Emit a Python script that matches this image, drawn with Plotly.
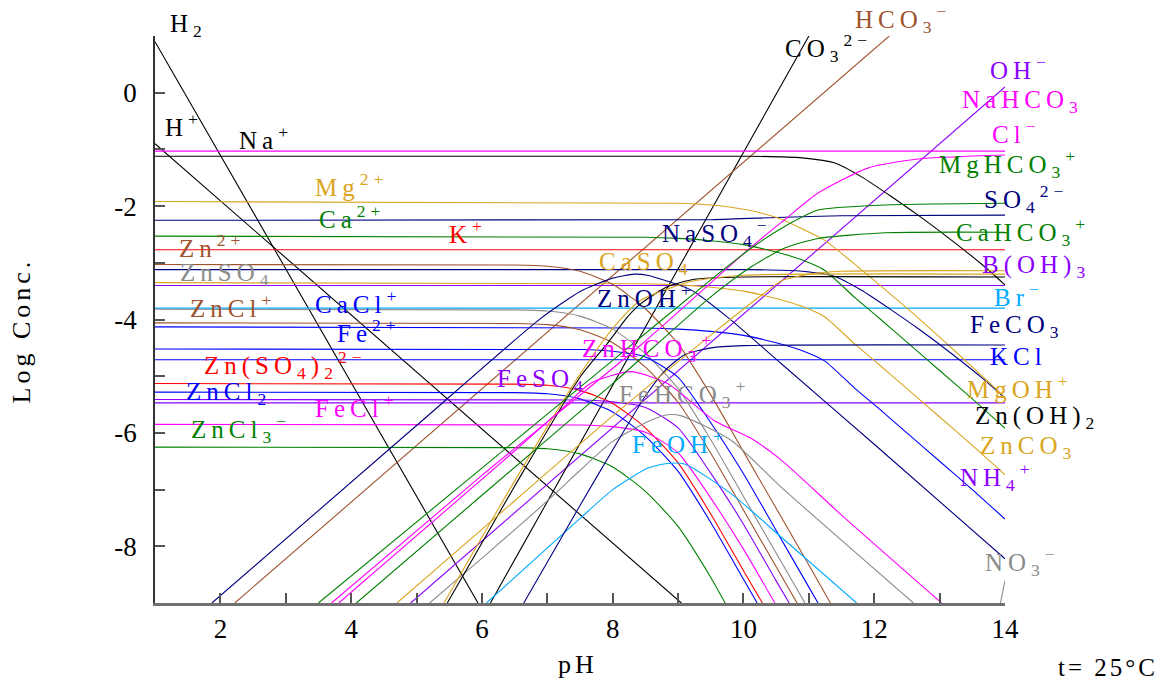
import plotly.graph_objects as go

# ---------------- data: (pH, log concentration) ----------------
h2_ph = [1.0, 5.94]
h2_log = [0.90, -9.0]
hplus_ph = [1.0, 9.05]
hplus_log = [-0.90, -9.0]
oh_ph = [4.91, 14.0]
oh_log = [-9.0, 0.10]
co3_ph = [6.13, 11.0]
co3_log = [-9.0, 1.0]
hco3_ph = [2.22, 12.23]
hco3_log = [-9.0, 1.0]

cl_ph = [1.0, 14.0]
cl_log = [-1.03, -1.03]
k_ph = [1.0, 14.0]
k_log = [-2.77, -2.77]
boh3_ph = [1.0, 14.0]
boh3_log = [-3.40, -3.40]
br_ph = [1.0, 14.0]
br_log = [-3.80, -3.80]
kcl_ph = [1.0, 14.0]
kcl_log = [-4.71, -4.71]
flat_purple_ph = [1.0, 14.0]
flat_purple_log = [-5.47, -5.47]
so4_ph = [1.0, 9.5, 10.5, 11.5, 14.0]
so4_log = [-2.25, -2.24, -2.20, -2.17, -2.16]

na_ph = [1.0, 10.1, 10.9, 11.4, 11.8, 12.26, 12.67, 13.18, 13.69, 14.0]
na_log = [-1.12, -1.12, -1.15, -1.24, -1.48, -1.83, -2.16, -2.60, -3.07, -3.39]
naso4_ph = [1.0, 10.1, 10.9, 11.4, 11.8, 12.26, 12.67, 13.18, 13.69, 14.0]
naso4_log = [-3.12, -3.12, -3.15, -3.24, -3.48, -3.83, -4.16, -4.60, -5.07, -5.39]

mg_ph = [1.0, 9.0, 9.5, 10.07, 10.53, 10.88, 11.24, 11.8, 12.57, 13.2, 14.0]
mg_log = [-1.92, -1.95, -1.98, -2.07, -2.21, -2.39, -2.60, -3.12, -3.87, -4.52, -5.37]

ca_ph = [1.0, 8.5, 9.0, 9.5, 10.0, 10.5, 10.9, 11.24, 11.7, 12.06, 12.5, 13.0, 13.5, 14.0]
ca_log = [-2.53, -2.55, -2.57, -2.61, -2.68, -2.81, -2.95, -3.13, -3.61, -3.96, -4.40, -4.90, -5.40, -5.92]
caso4_ph = [1.0, 8.5, 9.0, 9.5, 10.0, 10.5, 10.9, 11.24, 11.7, 12.06, 12.5, 13.0, 13.5, 14.0]
caso4_log = [-3.35, -3.37, -3.39, -3.43, -3.50, -3.63, -3.77, -3.95, -4.43, -4.78, -5.22, -5.72, -6.22, -6.74]
cacl_ph = [1.0, 8.5, 9.0, 9.5, 10.0, 10.5, 10.9, 11.24, 11.7, 12.06, 12.5, 13.0, 13.5, 14.0]
cacl_log = [-4.13, -4.15, -4.17, -4.21, -4.28, -4.41, -4.55, -4.73, -5.21, -5.56, -6.00, -6.50, -7.00, -7.52]

zn_ph = [1.0, 6.5, 7.0, 7.5, 8.0, 8.5, 9.0, 9.5, 10.0, 10.5, 11.0, 11.33]
zn_log = [-3.03, -3.04, -3.06, -3.15, -3.38, -3.81, -4.43, -5.33, -6.33, -7.33, -8.33, -9.0]
znso4_ph = [1.0, 6.5, 7.0, 7.5, 8.0, 8.5, 9.0, 9.5, 10.0, 10.5, 10.94]
znso4_log = [-3.82, -3.83, -3.85, -3.94, -4.17, -4.60, -5.22, -6.12, -7.12, -8.12, -9.0]
zncl_ph = [1.0, 6.5, 7.0, 7.5, 8.0, 8.5, 9.0, 9.5, 10.0, 10.5, 10.82]
zncl_log = [-4.06, -4.07, -4.09, -4.18, -4.41, -4.84, -5.46, -6.36, -7.36, -8.36, -9.0]
znso42_ph = [1.0, 6.5, 7.0, 7.5, 8.0, 8.5, 9.0, 9.5, 10.0, 10.29]
znso42_log = [-5.13, -5.14, -5.16, -5.25, -5.48, -5.91, -6.53, -7.43, -8.43, -9.0]
zncl2_ph = [1.0, 6.5, 7.0, 7.5, 8.0, 8.5, 9.0, 9.5, 10.0, 10.21]
zncl2_log = [-5.28, -5.29, -5.31, -5.40, -5.63, -6.06, -6.68, -7.58, -8.58, -9.0]
zncl3_ph = [1.0, 6.5, 7.0, 7.5, 8.0, 8.5, 9.0, 9.5, 9.72]
zncl3_log = [-6.25, -6.26, -6.28, -6.37, -6.60, -7.03, -7.65, -8.55, -9.0]

fe_ph = [1.0, 7.5, 8.0, 8.5, 9.0, 9.5, 10.0, 10.5, 11.0, 11.14]
fe_log = [-4.52, -4.53, -4.56, -4.66, -5.02, -5.82, -6.72, -7.72, -8.72, -9.0]
feso4_ph = [1.0, 7.5, 8.0, 8.5, 9.0, 9.5, 10.0, 10.5, 10.7]
feso4_log = [-5.41, -5.42, -5.45, -5.55, -5.91, -6.71, -7.61, -8.61, -9.0]
fecl_ph = [1.0, 7.5, 8.0, 8.5, 9.0, 9.5, 10.0, 10.48]
fecl_log = [-5.85, -5.86, -5.89, -5.99, -6.35, -7.15, -8.05, -9.0]

znoh_ph = [1.87, 5.0, 6.9, 7.51, 8.0, 8.33, 8.53, 9.2, 9.81, 10.58, 12.0, 14.0]
znoh_log = [-9.0, -5.87, -3.98, -3.50, -3.27, -3.20, -3.22, -3.48, -4.01, -4.78, -6.20, -8.22]
znhco3_ph = [3.81, 6.5, 7.2, 7.67, 8.28, 8.84, 9.55, 10.12, 10.58, 11.5, 13.03]
znhco3_log = [-9.0, -6.32, -5.60, -5.12, -4.92, -5.13, -5.78, -6.10, -6.48, -7.45, -9.0]
fehco3_ph = [5.2, 6.06, 7.0, 7.51, 8.0, 8.54, 8.84, 9.05, 9.81, 10.58, 12.6]
fehco3_log = [-9.0, -8.15, -7.20, -6.65, -6.15, -5.80, -5.68, -5.70, -6.13, -6.96, -9.0]
feoh_ph = [6.07, 7.51, 8.0, 8.54, 8.84, 9.1, 9.81, 10.58, 11.73]
feoh_log = [-9.0, -7.50, -7.00, -6.62, -6.54, -6.55, -7.07, -7.84, -9.0]
feco3_ph = [6.64, 7.5, 8.0, 8.5, 8.8, 9.1, 9.5, 10.0, 14.0]
feco3_log = [-9.0, -7.28, -6.30, -5.35, -4.90, -4.62, -4.50, -4.46, -4.45]
znoh2_ph = [5.47, 6.5, 7.51, 7.92, 8.23, 8.43, 8.84, 9.25, 10.0, 14.0]
znoh2_log = [-9.0, -6.94, -5.00, -4.42, -3.95, -3.72, -3.42, -3.29, -3.25, -3.25]
znco3_ph = [5.42, 6.5, 7.51, 8.02, 8.43, 9.2, 10.0, 14.0]
znco3_log = [-9.0, -6.85, -4.95, -4.13, -3.66, -3.33, -3.22, -3.20]
mgoh_ph = [4.70, 6.06, 8.0, 9.58, 10.3, 10.58, 11.0, 11.5, 14.0]
mgoh_log = [-9.0, -7.64, -5.70, -4.20, -3.55, -3.32, -3.20, -3.15, -3.14]
nahco3_ph = [3.70, 6.0, 8.43, 10.12, 10.63, 11.14, 11.9, 12.67, 14.0]
nahco3_log = [-9.0, -6.75, -4.45, -2.72, -2.24, -1.77, -1.33, -1.17, -1.10]
mghco3_ph = [3.50, 6.0, 8.0, 9.5, 10.12, 10.63, 11.14, 12.16, 14.0]
mghco3_log = [-9.0, -6.62, -4.72, -3.30, -2.74, -2.36, -2.07, -1.98, -1.95]
cahco3_ph = [4.08, 6.0, 8.0, 9.5, 10.12, 10.63, 11.14, 12.16, 14.0]
cahco3_log = [-9.0, -7.10, -5.13, -3.60, -3.07, -2.74, -2.57, -2.47, -2.46]
no3_ph = [13.93, 14.0]
no3_log = [-9.0, -8.60]

# axis ticks
x_tickvals = [2, 4, 6, 8, 10, 12, 14]
x_ticktext = ["2", "4", "6", "8", "10", "12", "14"]
y_tickvals = [-8, -6, -4, -2, 0]
y_ticktext = ["-8", "-6", "-4", "-2", "0"]

# ---------------- colours ----------------
BLACK = "#000000"
MAGENTA = "#FF00FF"
GOLD = "#DAA520"
GREEN = "#008000"
RED = "#FF0000"
BROWN = "#A0522D"
GRAY = "#8C8C8C"
BLUE = "#0000FF"
NAVY = "#000080"
SKY = "#00AAFF"
PURPLE = "#8C00FF"

curves = [
    (h2_ph, h2_log, BLACK), (hplus_ph, hplus_log, BLACK), (oh_ph, oh_log, PURPLE),
    (co3_ph, co3_log, BLACK), (hco3_ph, hco3_log, BROWN),
    (cl_ph, cl_log, MAGENTA), (k_ph, k_log, RED), (boh3_ph, boh3_log, PURPLE),
    (br_ph, br_log, SKY), (kcl_ph, kcl_log, BLUE), (flat_purple_ph, flat_purple_log, PURPLE),
    (so4_ph, so4_log, NAVY), (na_ph, na_log, BLACK), (naso4_ph, naso4_log, NAVY),
    (mg_ph, mg_log, GOLD), (ca_ph, ca_log, GREEN), (caso4_ph, caso4_log, GOLD),
    (cacl_ph, cacl_log, BLUE), (zn_ph, zn_log, BROWN), (znso4_ph, znso4_log, GRAY),
    (zncl_ph, zncl_log, BROWN), (znso42_ph, znso42_log, RED), (zncl2_ph, zncl2_log, BLUE),
    (zncl3_ph, zncl3_log, GREEN), (fe_ph, fe_log, BLUE), (feso4_ph, feso4_log, PURPLE),
    (fecl_ph, fecl_log, MAGENTA), (znoh_ph, znoh_log, NAVY), (znhco3_ph, znhco3_log, MAGENTA),
    (fehco3_ph, fehco3_log, GRAY), (feoh_ph, feoh_log, SKY), (feco3_ph, feco3_log, NAVY),
    (znoh2_ph, znoh2_log, BLACK), (znco3_ph, znco3_log, GOLD), (mgoh_ph, mgoh_log, GOLD),
    (nahco3_ph, nahco3_log, MAGENTA), (mghco3_ph, mghco3_log, GREEN),
    (cahco3_ph, cahco3_log, GREEN), (no3_ph, no3_log, GRAY),
]

# species labels: text, pH of left edge, log conc of text middle, colour
labels = [
    ("H<sup>+</sup>", 1.12, -0.57, BLACK),
    ("Na<sup>+</sup>", 2.25, -0.80, BLACK),
    ("Mg<sup>2+</sup>", 3.42, -1.63, GOLD),
    ("Ca<sup>2+</sup>", 3.48, -2.19, GREEN),
    ("K<sup>+</sup>", 5.47, -2.46, RED),
    ("Zn<sup>2+</sup>", 1.34, -2.70, BROWN),
    ("ZnSO<sub>4</sub>", 1.35, -3.21, GRAY),
    ("ZnCl<sup>+</sup>", 1.50, -3.76, BROWN),
    ("CaCl<sup>+</sup>", 3.42, -3.69, BLUE),
    ("Fe<sup>2+</sup>", 3.75, -4.20, BLUE),
    ("Zn(SO<sub>4</sub>)<sub>2</sub><sup>2−</sup>", 1.72, -4.80, RED),
    ("ZnCl<sub>2</sub>", 1.44, -5.31, BLUE),
    ("FeCl<sup>+</sup>", 3.42, -5.53, MAGENTA),
    ("ZnCl<sub>3</sub><sup>−</sup>", 1.52, -5.93, GREEN),
    ("NaSO<sub>4</sub><sup>−</sup>", 8.72, -2.47, NAVY),
    ("CaSO<sub>4</sub>", 7.76, -3.02, GOLD),
    ("ZnOH<sup>+</sup>", 7.73, -3.59, NAVY),
    ("ZnHCO<sub>3</sub><sup>+</sup>", 7.50, -4.50, MAGENTA),
    ("FeSO<sub>4</sub>", 6.20, -5.08, PURPLE),
    ("FeHCO<sub>3</sub><sup>+</sup>", 8.07, -5.31, GRAY),
    ("FeOH<sup>+</sup>", 8.27, -6.16, SKY),
    ("CO<sub>3</sub><sup>2−</sup>", 10.61, 0.79, BLACK),
    ("OH<sup>−</sup>", 13.74, 0.44, PURPLE),
    ("NaHCO<sub>3</sub>", 13.31, -0.16, MAGENTA),
    ("Cl<sup>−</sup>", 13.77, -0.69, MAGENTA),
    ("MgHCO<sub>3</sub><sup>+</sup>", 12.96, -1.26, GREEN),
    ("SO<sub>4</sub><sup>2−</sup>", 13.65, -1.88, NAVY),
    ("CaHCO<sub>3</sub><sup>+</sup>", 13.22, -2.45, GREEN),
    ("B(OH)<sub>3</sub>", 13.62, -3.06, PURPLE),
    ("Br<sup>−</sup>", 13.80, -3.56, SKY),
    ("FeCO<sub>3</sub>", 13.43, -4.13, NAVY),
    ("KCl", 13.74, -4.66, BLUE),
    ("MgOH<sup>+</sup>", 13.39, -5.19, GOLD),
    ("Zn(OH)<sub>2</sub>", 13.51, -5.72, BLACK),
    ("ZnCO<sub>3</sub>", 13.59, -6.25, GOLD),
    ("NH<sub>4</sub><sup>+</sup>", 13.28, -6.78, PURPLE),
    ("NO<sub>3</sub><sup>−</sup>", 13.66, -8.28, GRAY),
]
# labels that sit above the top of the axes (pH of left edge, paper y of middle)
top_labels = [
    ("H<sub>2</sub>", 1.20, 1.018, BLACK),
    ("HCO<sub>3</sub><sup>−</sup>", 11.68, 1.030, BROWN),
]

FONT = "Liberation Serif"
LABEL_SIZE = 25


def spaced(s, px):
    return '<span style="letter-spacing:%dpx">%s</span>' % (px, s)


fig = go.Figure()
for ph, lg, col in curves:
    fig.add_trace(go.Scatter(
        x=ph, y=lg, mode="lines",
        line=dict(color=col, width=1.1, shape="spline", smoothing=0.6),
        hoverinfo="skip", showlegend=False,
    ))

for txt, x, y, col in labels:
    fig.add_annotation(
        x=x, y=y, xref="x", yref="y", text=spaced(txt, 5),
        showarrow=False, xanchor="left", yanchor="middle",
        font=dict(family=FONT, size=LABEL_SIZE, color=col),
    )
for txt, x, y, col in top_labels:
    fig.add_annotation(
        x=x, y=y, xref="x", yref="paper", text=spaced(txt, 5),
        showarrow=False, xanchor="left", yanchor="middle",
        font=dict(family=FONT, size=LABEL_SIZE, color=col),
    )

fig.add_annotation(x=-0.157, y=0.48, xref="paper", yref="paper",
                   xanchor="center", yanchor="middle",
                   text=spaced("Log Conc.", 4), textangle=-90, showarrow=False,
                   font=dict(family=FONT, size=26, color="black"))
fig.add_annotation(x=0.498, y=-0.109, xref="paper", yref="paper",
                   xanchor="center", yanchor="middle",
                   text=spaced("pH", 4), showarrow=False,
                   font=dict(family=FONT, size=26, color="black"))
fig.add_annotation(x=1.121, y=-0.114, xref="paper", yref="paper",
                   xanchor="center", yanchor="middle",
                   text=spaced("t= 25°C", 3), showarrow=False,
                   font=dict(family=FONT, size=25, color="black"))

minor = dict(ticks="inside", ticklen=10, tickwidth=1.5, tickcolor="#555555", dtick=1, showgrid=False)

fig.update_layout(
    width=1170, height=685,
    margin=dict(l=155, r=165, t=36, b=82),
    paper_bgcolor="white", plot_bgcolor="white",
    showlegend=False,
    xaxis=dict(
        range=[1, 14], tickmode="array", tickvals=x_tickvals, ticktext=x_ticktext,
        ticks="inside", ticklen=10, tickwidth=1.5, tickcolor="#555555",
        minor=dict(minor, tick0=1),
        showline=True, linecolor="#707070", linewidth=2.5,
        showgrid=False, zeroline=False, ticklabelstandoff=0,
        tickfont=dict(family=FONT, size=27, color="black"),
    ),
    yaxis=dict(
        range=[-9, 1], tickmode="array", tickvals=y_tickvals, ticktext=y_ticktext,
        ticks="inside", ticklen=10, tickwidth=1.5, tickcolor="#555555",
        minor=dict(minor, tick0=-9),
        showline=True, linecolor="#333333", linewidth=1.5,
        showgrid=False, zeroline=False, ticklabelstandoff=11,
        tickfont=dict(family=FONT, size=27, color="black"),
    ),
)

# remove the browser's default 8 px page margin so the 1170x685 figure fills the window
fig.write_html("out.html", config={"displayModeBar": False},
               post_script="document.body.style.margin='0';")
